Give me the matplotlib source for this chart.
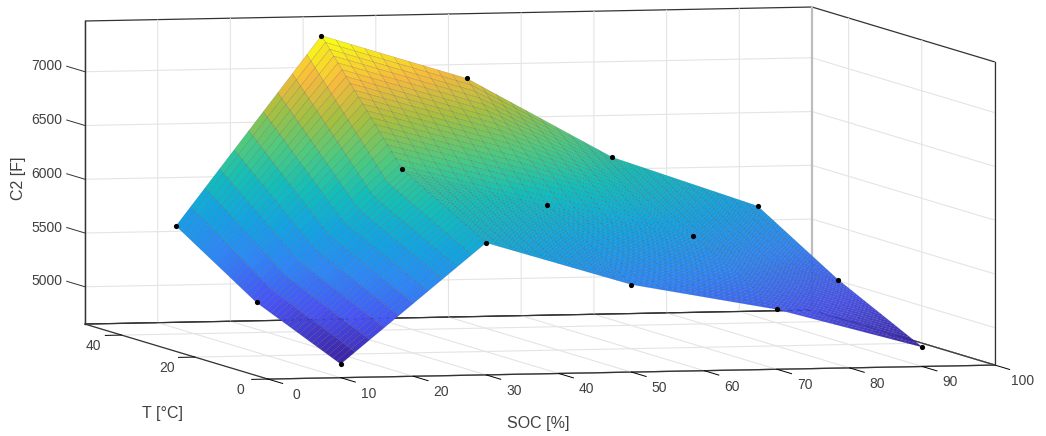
import numpy as np
import matplotlib
matplotlib.use("Agg")
import matplotlib.pyplot as plt
from matplotlib.colors import LinearSegmentedColormap
from mpl_toolkits.mplot3d import proj3d

plt.rcParams['font.family'] = ['Liberation Sans', 'DejaVu Sans']

# Data
soc_nodes = [10, 30, 50, 70, 90]
temp_nodes = [0, 23, 45]
c2_t0 = [4780, 5882, 5467, 5210, 4833]
c2_t23 = [5117, 6331, 5971, 5658, 5225]
c2_t45 = [5604, 7348, 6924, 6165, 5685]
soc_ticks = [0, 10, 20, 30, 40, 50, 60, 70, 80, 90, 100]
temp_ticks = [0, 20, 40]
c2_ticks = [5000, 5500, 6000, 6500, 7000]

# Axis limits
soc_lim = (0, 100)
temp_lim = (0, 50)
c2_lim = (4653, 7472)

parula = LinearSegmentedColormap.from_list('parula', [
    (0.00, (0.2422, 0.1504, 0.6603)),
    (0.12, (0.2810, 0.3228, 0.9579)),
    (0.25, (0.1786, 0.5289, 0.9682)),
    (0.37, (0.0689, 0.6396, 0.8900)),
    (0.50, (0.0704, 0.7457, 0.7258)),
    (0.62, (0.3000, 0.7900, 0.5000)),
    (0.75, (0.6500, 0.7500, 0.2500)),
    (0.87, (0.9700, 0.7300, 0.2400)),
    (1.00, (0.9769, 0.9839, 0.0805)),
])

fig = plt.figure(figsize=(10.46, 4.36), dpi=100, facecolor='white')
ax = fig.add_axes([0, 0, 1, 1], projection='3d', computed_zorder=False)
ax.set_proj_type('ortho')
ax.view_init(elev=4.36, azim=-104.2)
ax.set_box_aspect((750, 746, 304), zoom=1)
ax.set_xlim(*soc_lim, view_margin=0)
ax.set_ylim(*temp_lim, view_margin=0)
ax.set_zlim(*c2_lim, view_margin=0)

# Rendered mesh between the measured nodes
nodes = np.array([c2_t0, c2_t23, c2_t45], dtype=float)
soc_mesh = np.linspace(soc_nodes[0], soc_nodes[-1], 41)
temp_mesh = np.linspace(temp_nodes[0], temp_nodes[-1], 41)
by_soc = np.array([np.interp(soc_mesh, soc_nodes, row) for row in nodes])
Z = np.array([np.interp(temp_mesh, temp_nodes, by_soc[:, j])
              for j in range(len(soc_mesh))]).T
X, Y = np.meshgrid(soc_mesh, temp_mesh)
ax.plot_surface(X, Y, Z, rstride=1, cstride=1, cmap=parula, shade=False,
                edgecolor=(0.1, 0.1, 0.15, 0.28), linewidth=0.3,
                antialiased=True, zorder=2)

S, T = np.meshgrid(soc_nodes, temp_nodes)
ax.scatter(S.ravel(), T.ravel(), nodes.ravel(), color='black', s=14,
           depthshade=False, zorder=3, linewidths=0)

# Box edges
dark = '#333333'
ax.plot([soc_lim[1]] * 2, [temp_lim[1]] * 2, c2_lim, color='#bdbdbd', lw=1.6, zorder=1)
ax.plot([soc_lim[1]] * 2, [temp_lim[0]] * 2, c2_lim, color=dark, lw=0.9, zorder=1)
ax.plot([soc_lim[0]] * 2, [temp_lim[1]] * 2, c2_lim, color=dark, lw=0.9, zorder=1)
ax.plot([soc_lim[1]] * 2, temp_lim, [c2_lim[0]] * 2, color=dark, lw=0.8, zorder=1)
ax.plot(soc_lim, [temp_lim[1]] * 2, [c2_lim[0]] * 2, color=dark, lw=0.8, zorder=1)
# z tick marks run along the T direction, away from the box
for z in c2_ticks:
    ax.plot([soc_lim[0]] * 2, [temp_lim[1], temp_lim[1] + 5], [z, z],
            color=dark, lw=0.7, zorder=1)

ax.set_xticks(soc_ticks)
ax.set_yticks(temp_ticks)
ax.set_zticks(c2_ticks)
ax.xaxis.set_ticklabels([])
ax.yaxis.set_ticklabels([])
ax.zaxis.set_ticklabels([])
for axis, outward in ((ax.xaxis, -1.0), (ax.yaxis, -0.28), (ax.zaxis, 0.0)):
    axis.set_pane_color((1, 1, 1, 1))
    axis.pane.set_edgecolor(dark)
    axis.pane.set_linewidth(0.9)
    axis.line.set_color(dark)
    axis.line.set_linewidth(0.9)
    axis._axinfo['grid'].update(color='#e4e4e4', linewidth=0.8)
    axis._axinfo['tick'].update(inward_factor=0.0, outward_factor=outward,
                                color=dark, linewidth={True: 0.7, False: 0.5})
ax.zaxis.set_ticks_position('upper')

# Fit the box to the pixel corners of the reference
W, H = 1046.0, 436.0
def corner_px(x, y, z):
    px, py, _ = proj3d.proj_transform(x, y, z, ax.get_proj())
    return ax.transData.transform((px, py))
side, cx, cy = 436.0, 523.0, 218.0
for _ in range(3):
    ax.set_position([(cx - side / 2) / W, (cy - side / 2) / H, side / W, side / H])
    ax.apply_aspect()
    a = corner_px(soc_lim[0], temp_lim[1], c2_lim[1])
    b = corner_px(soc_lim[1], temp_lim[0], c2_lim[0])
    side *= (995 - 85) / (b[0] - a[0])
    ax.set_position([(cx - side / 2) / W, (cy - side / 2) / H, side / W, side / H])
    ax.apply_aspect()
    a = corner_px(soc_lim[0], temp_lim[1], c2_lim[1])
    cx += 85 - a[0]
    cy += (H - 21) - a[1]
ax.set_position([(cx - side / 2) / W, (cy - side / 2) / H, side / W, side / H])
ax.apply_aspect()

# Tick labels placed from the projected tick positions
tick_text = dict(fontsize=10, color='#404040', ha='center', va='center')
def tick_label(x, y, z, text, dx, dy):
    p = corner_px(x, y, z)
    fig.text((p[0] + dx) / W, (p[1] - dy) / H, text, **tick_text)
for s in soc_ticks:
    tick_label(s, temp_lim[0], c2_lim[0], str(s), 28, 16)
for t in temp_ticks:
    tick_label(soc_lim[0], t, c2_lim[0], str(t), -28, 10.5)
for z in c2_ticks:
    tick_label(soc_lim[0], temp_lim[1], z, str(z), -38, -5.5)

lab = dict(fontsize=11.5, color='#404040', ha='center', va='center')
fig.text(18 / W, 1 - 178 / H, 'C2 [F]', rotation=90, **lab)
fig.text(162 / W, 1 - 413 / H, 'T [°C]', **lab)
fig.text(538 / W, 1 - 423 / H, 'SOC [%]', **lab)

fig.savefig('out.png', dpi=100)
